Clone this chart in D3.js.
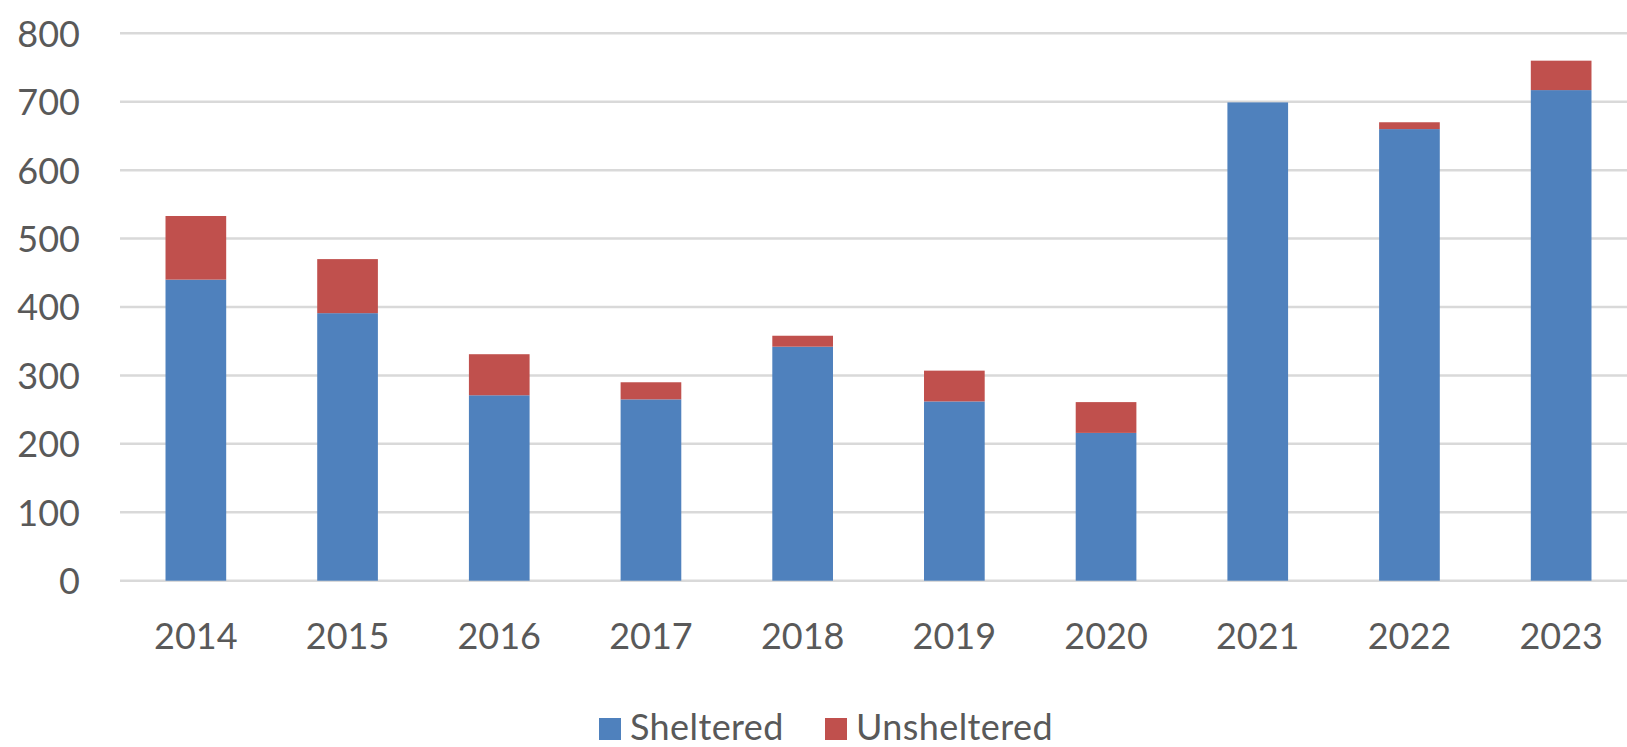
<!DOCTYPE html>
<html>
<head>
<meta charset="utf-8">
<script src="https://cdn.jsdelivr.net/npm/d3@7"></script>
<style>
  html, body { margin: 0; padding: 0; background: #fff; }
  svg { display: block; }
</style>
</head>
<body>
<svg id="chart" width="1627" height="747"></svg>
<script>
const years = ["2014","2015","2016","2017","2018","2019","2020","2021","2022","2023"];
const sheltered = [440, 391, 271, 265, 342, 262, 216, 699, 660, 717];
const unsheltered = [93, 79, 60, 25, 16, 45, 45, 0, 10, 43];
const yTicks = [0, 100, 200, 300, 400, 500, 600, 700, 800];
const seriesNames = ["Sheltered", "Unsheltered"];
const colors = ["#4F81BD", "#C0504D"];

const svg = d3.select("#chart");
const font = "Lato, 'Open Sans', sans-serif";
const textColor = "#595959";

const x = d3.scaleBand().domain(years).range([120, 1637]).paddingInner(0.6).paddingOuter(0.3);
const y = d3.scaleLinear().domain([0, 800]).range([580.7, 33.3]);

// gridlines
svg.append("g").selectAll("line").data(yTicks).join("line")
  .attr("x1", 120).attr("x2", 1627)
  .attr("y1", d => y(d)).attr("y2", d => y(d))
  .attr("stroke", "#D9D9D9").attr("stroke-width", 2.5);

// y axis labels
const yAxis = d3.axisLeft(y).tickValues(yTicks).tickSize(0).tickPadding(0);
const yg = svg.append("g").attr("transform", "translate(80,0)").call(yAxis);
yg.select(".domain").remove();
yg.selectAll("text").attr("font-family", font).attr("font-size", 36)
  .attr("fill", textColor).attr("dy", "0.36em");

// x axis labels
const xAxis = d3.axisBottom(x).tickSize(0).tickPadding(0);
const xg = svg.append("g").attr("transform", "translate(0,649)").call(xAxis);
xg.select(".domain").remove();
xg.selectAll("text").attr("font-family", font).attr("font-size", 36)
  .attr("fill", textColor).attr("dy", 0);

// stacked bars
const table = years.map((yr, i) => ({ year: yr, Sheltered: sheltered[i], Unsheltered: unsheltered[i] }));
const stack = d3.stack().keys(seriesNames)(table);
svg.append("g").selectAll("g").data(stack).join("g")
  .attr("fill", (d, i) => colors[i])
  .selectAll("rect").data(d => d).join("rect")
  .attr("x", d => x(d.data.year))
  .attr("width", x.bandwidth())
  .attr("y", d => y(d[1]))
  .attr("height", d => y(d[0]) - y(d[1]));

// legend
const legendX = [599, 825];
const lg = svg.append("g");
seriesNames.forEach((name, i) => {
  lg.append("rect").attr("x", legendX[i]).attr("y", 718).attr("width", 22).attr("height", 22).attr("fill", colors[i]);
  lg.append("text").attr("x", legendX[i] + 31).attr("y", 739.5)
    .attr("font-family", font).attr("font-size", 36).attr("letter-spacing", 0.4)
    .attr("fill", textColor).text(name);
});
</script>
</body>
</html>
